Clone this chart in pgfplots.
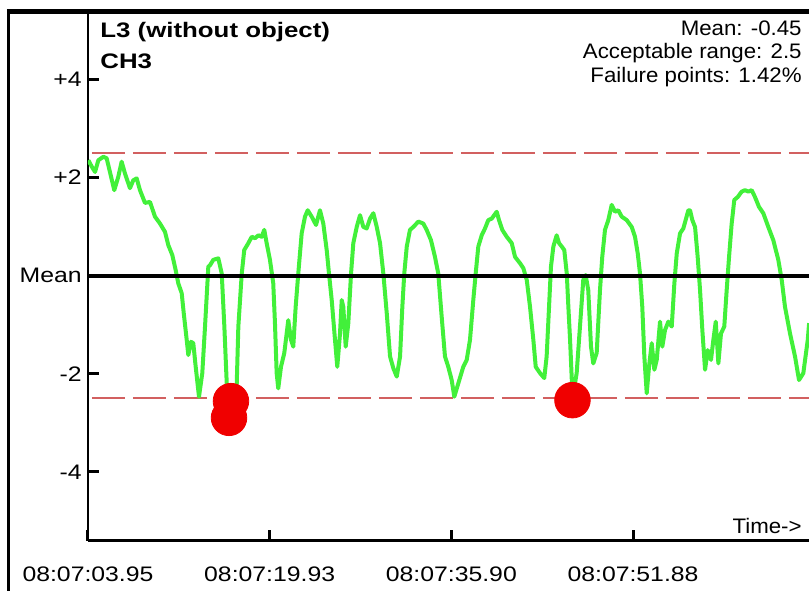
\documentclass[border=0pt]{standalone}
\usepackage{pgfplots}
\pgfplotsset{compat=1.18}
\usepackage{pgfplotstable}
\usepackage{fontspec}
\setmainfont{Liberation Sans}
\newfontfamily\tickfont{Liberation Sans}[FakeStretch=1.18]
\newfontfamily\titlefont{Liberation Sans}[FakeStretch=1.23]
\newfontfamily\notefont{Liberation Sans}[FakeStretch=1.06]

\definecolor{sig}{RGB}{66,240,58}
\definecolor{lim}{RGB}{210,96,96}
\definecolor{fail}{RGB}{240,0,0}

% CH3 signal, time in s from 08:07:03.95
\pgfplotstableread{
t v
0.03 2.35
0.33 2.22
0.62 2.11
0.91 2.35
1.35 2.42
1.64 2.39
1.93 2.11
2.31 1.74
2.66 2.01
2.96 2.32
3.25 2.08
3.69 1.78
3.98 1.94
4.28 1.98
4.57 1.74
5.01 1.48
5.45 1.50
5.89 1.20
6.33 1.06
6.77 0.89
7.06 0.62
7.41 0.42
7.71 0.11
7.94 -0.16
8.24 -0.36
8.42 -0.77
8.68 -1.31
8.82 -1.62
9.06 -1.35
9.26 -1.38
9.47 -1.86
9.76 -2.47
10.05 -1.99
10.29 -1.04
10.58 0.18
10.73 0.21
11.02 0.32
11.46 0.35
11.76 0.04
11.99 -1.04
12.20 -2.20
12.44 -2.84
12.66 -2.90
12.88 -2.54
13.08 -2.20
13.22 -1.04
13.52 0.04
13.74 0.52
14.10 0.66
14.40 0.79
14.69 0.76
14.98 0.82
15.27 0.79
15.50 0.93
15.71 0.66
16.00 0.32
16.29 -0.16
16.44 -0.97
16.59 -1.99
16.73 -2.30
16.97 -1.86
17.26 -1.58
17.47 -1.18
17.61 -0.91
17.85 -1.31
18.05 -1.45
18.26 -0.64
18.49 0.04
18.79 0.86
19.08 1.20
19.32 1.33
19.67 1.20
20.05 1.03
20.40 1.33
20.69 1.06
20.99 0.52
21.19 0.04
21.43 -0.50
21.72 -1.31
21.92 -1.86
22.16 -1.18
22.31 -0.50
22.45 -0.64
22.66 -1.45
22.89 -0.97
23.13 0.04
23.33 0.66
23.63 0.99
23.92 1.23
24.21 0.99
24.51 0.96
24.80 1.16
25.09 1.27
25.39 0.99
25.68 0.66
25.97 0.04
26.27 -0.77
26.56 -1.65
26.85 -1.89
27.15 -2.06
27.44 -1.65
27.64 -0.64
27.81 0.04
28.03 0.59
28.31 0.93
28.61 0.99
29.05 1.10
29.48 1.06
29.78 0.93
30.16 0.72
30.51 0.38
30.80 0.04
31.10 -0.84
31.39 -1.65
31.68 -1.86
31.98 -2.13
32.21 -2.47
32.56 -2.20
33.00 -1.86
33.30 -1.72
33.59 -1.31
33.88 -0.50
34.09 0.04
34.32 0.59
34.62 0.82
34.91 0.96
35.20 1.13
35.50 1.16
35.94 1.30
36.14 1.13
36.43 0.93
36.82 0.79
37.26 0.66
37.55 0.38
37.99 0.25
38.28 0.15
38.58 -0.09
38.87 -0.64
39.16 -1.31
39.37 -1.86
39.75 -1.99
40.12 -2.09
40.33 -1.65
40.54 -0.64
40.71 0.18
40.92 0.59
41.21 0.82
41.42 0.66
41.66 0.59
41.88 0.52
42.10 0.04
42.24 -0.64
42.39 -1.31
42.61 -2.50
42.97 -1.99
43.26 -1.04
43.55 -0.09
43.76 0.01
43.99 -0.30
44.23 -1.45
44.43 -1.79
44.73 -1.58
45.02 -0.30
45.22 0.38
45.46 0.93
45.75 1.13
46.05 1.44
46.34 1.30
46.63 1.33
46.93 1.20
47.37 1.13
47.81 0.99
48.10 0.79
48.34 0.45
48.54 0.04
48.74 -0.64
48.92 -1.65
49.13 -2.40
49.33 -1.86
49.57 -1.38
49.80 -1.92
50.01 -1.72
50.30 -0.94
50.50 -1.45
50.74 -1.11
51.03 -0.94
51.33 -1.04
51.56 -0.16
51.77 0.45
52.06 0.86
52.35 0.96
52.79 1.33
52.94 1.33
53.14 1.13
53.38 0.99
53.61 0.38
53.82 -0.30
54.02 -1.11
54.26 -1.92
54.49 -1.52
54.78 -1.72
54.99 -1.31
55.20 -0.94
55.43 -1.79
55.66 -1.18
55.95 -1.04
56.16 -0.30
56.37 0.38
56.60 1.06
56.83 1.54
57.13 1.60
57.48 1.71
57.77 1.74
58.06 1.71
58.36 1.74
58.65 1.60
59.00 1.40
59.38 1.27
59.82 0.99
60.26 0.72
60.70 0.32
61.00 -0.09
61.29 -0.64
61.73 -1.18
62.17 -1.65
62.52 -2.13
62.90 -1.99
63.29 -1.31
63.41 -0.97
}\chdata

\pgfplotstableread{
t v
12.40 -2.90
12.57 -2.56
42.60 -2.54
}\faildata

\begin{document}
\begin{tikzpicture}
\path[use as bounding box] (0,0) rectangle (404.5pt,295.5pt);
\begin{axis}[
    at={(44pt,25.25pt)}, anchor=south west,
    width=360.5pt, height=263.75pt, scale only axis,
    xmin=0, xmax=63.40, ymin=-5.40, ymax=5.35,
    axis x line=bottom, axis y line=left,
    axis line style={-, line width=1.3pt, black},
    tick align=inside,
    major tick length=5.5pt,
    tick style={line width=1.5pt, black},
    xtick={0,15.975,31.95,47.925},
    xticklabels={08:07:03.95,08:07:19.93,08:07:35.90,08:07:51.88},
    ytick={-4,-2,0,2,4},
    yticklabels={-4,-2,Mean,+2,+4},
    ticklabel style={font=\fontsize{10.5}{12}\tickfont},
    xticklabel style={anchor=north, inner sep=0pt, yshift=-13pt},
    yticklabel style={anchor=east, inner sep=0pt, xshift=-3pt},
]
\addplot[lim, line width=1pt, dash pattern=on 16.5pt off 4pt] coordinates {(0.35,2.5) (63.4,2.5)};
\addplot[lim, line width=1pt, dash pattern=on 16.5pt off 4pt] coordinates {(0.35,-2.5) (63.4,-2.5)};
\addplot[sig, line width=2pt, line join=round] table[x=t, y=v] {\chdata};
\addplot[black, line width=2pt] coordinates {(0,0) (63.4,0)};
\addplot[only marks, mark=*, mark size=8.9pt, mark options={draw=fail, fill=fail}] table[x=t, y=v] {\faildata};
\end{axis}
\draw[line width=2.5pt] (3.4pt,290pt) -- (404.5pt,290pt);
\draw[line width=1.5pt] (4.15pt,291pt) -- (4.15pt,0pt);
\node[anchor=base west, inner sep=0pt, font=\fontsize{10.5}{12}\titlefont\bfseries] at (50pt,276.5pt) {L3 (without object)};
\node[anchor=base west, inner sep=0pt, font=\fontsize{10.5}{12}\titlefont\bfseries] at (50pt,261.5pt) {CH3};
\node[anchor=base east, inner sep=0pt, font=\fontsize{10.5}{12}\notefont] at (401pt,278pt) {Mean: -0.45};
\node[anchor=base east, inner sep=0pt, font=\fontsize{10.5}{12}\notefont] at (401pt,266.5pt) {Acceptable range: 2.5};
\node[anchor=base east, inner sep=0pt, font=\fontsize{10.5}{12}\notefont] at (401pt,254.5pt) {Failure points: 1.42\%};
\node[anchor=base east, inner sep=0pt, font=\fontsize{10.5}{12}\notefont] at (401pt,29pt) {Time->};
\end{tikzpicture}
\end{document}
